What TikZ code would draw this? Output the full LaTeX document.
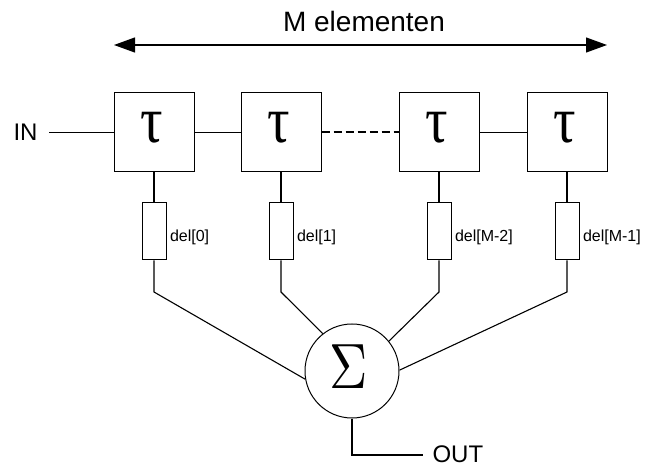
\documentclass[tikz,border=0pt]{standalone}
\usepackage{fontspec}
\setmainfont{Liberation Sans}
\newfontfamily\greekserif{Liberation Serif}
\usetikzlibrary{arrows.meta}
\begin{document}
\begin{tikzpicture}[x=1pt,y=-1pt,
  line width=1pt,
  tbox/.style={draw, rectangle, minimum width=80pt, minimum height=79pt, inner sep=0pt, line width=1pt},
  dbox/.style={draw, rectangle, minimum width=24pt, minimum height=57pt, inner sep=0pt, line width=1pt},
  dlabel/.style={anchor=west, inner sep=0pt, font=\fontsize{16}{18}\selectfont},
  sumc/.style={draw, circle, minimum size=94pt, inner sep=0pt, line width=1pt},
  sym/.style={inner sep=0pt},
  wire/.style={line width=1.1pt}
]
\useasboundingbox (0,0) rectangle (646,468);
% title and arrow
\node[anchor=base, inner sep=0pt, font=\fontsize{28}{30}\selectfont] (title) at (364,32) {M elementen};
\coordinate (aL) at (114,45);
\coordinate (aR) at (607,45);
\draw[wire, {Triangle[length=21pt,width=15pt]}-{Triangle[length=21pt,width=15pt]}] (aL) -- (aR);
% delay boxes
\node[tbox] (t1) at (154,132.5) {};
\node[tbox] (t2) at (281,132.5) {};
\node[tbox] (t3) at (439,132.5) {};
\node[tbox] (t4) at (567,132.5) {};
\node[sym] (s1) at ([xshift=-2pt,yshift=4.5pt]t1.center) {\scalebox{0.85}[1]{\greekserif\fontsize{66}{66}\selectfont τ}};
\node[sym] (s2) at ([xshift=-2pt,yshift=4.5pt]t2.center) {\scalebox{0.85}[1]{\greekserif\fontsize{66}{66}\selectfont τ}};
\node[sym] (s3) at ([xshift=-2pt,yshift=4.5pt]t3.center) {\scalebox{0.85}[1]{\greekserif\fontsize{66}{66}\selectfont τ}};
\node[sym] (s4) at ([xshift=-2pt,yshift=4.5pt]t4.center) {\scalebox{0.85}[1]{\greekserif\fontsize{66}{66}\selectfont τ}};
% IN
\node[anchor=east, inner xsep=11pt, inner ysep=0pt, font=\fontsize{24}{26}\selectfont] (in) at (49,132.5) {IN};
\draw[wire] (in.east) -- (t1.west);
\draw[wire] (t1.east) -- (t2.west);
\draw[line width=2pt, dash pattern=on 8pt off 4pt] (t2.east) -- (t3.west);
\draw[wire] (t3.east) -- (t4.west);
% weight boxes
\node[dbox] (d1) at (154,231.5) {};
\node[dbox] (d2) at (281,231.5) {};
\node[dbox] (d3) at (439,231.5) {};
\node[dbox] (d4) at (567,231.5) {};
\node[dlabel] (l1) at ([xshift=3pt,yshift=-6pt]d1.east) {del[0]};
\node[dlabel] (l2) at ([xshift=3pt,yshift=-6pt]d2.east) {del[1]};
\node[dlabel] (l3) at ([xshift=3pt,yshift=-6pt]d3.east) {del[M-2]};
\node[dlabel] (l4) at ([xshift=3pt,yshift=-6pt]d4.east) {del[M-1]};
\draw[wire] (t1.south) -- (d1.north);
\draw[wire] (t2.south) -- (d2.north);
\draw[wire] (t3.south) -- (d3.north);
\draw[wire] (t4.south) -- (d4.north);
% sum
\node[sumc] (sum) at (352,371) {};
\node[sym] (sig) at ([xshift=-3pt,yshift=4pt]sum.center) {\scalebox{5.3}[6.4]{$\Sigma$}};
\coordinate (j1) at (154,292);
\coordinate (j2) at (281,292);
\coordinate (j3) at (439,292);
\coordinate (j4) at (567,292);
\draw[wire] (d1.south) -- (j1) -- (sum.190);
\draw[wire] (d2.south) -- (j2) -- (sum.128);
\draw[wire] (d3.south) -- (j3) -- (sum.39);
\draw[wire] (d4.south) -- (j4) -- (sum.1);
% OUT
\node[anchor=west, inner xsep=9pt, inner ysep=0pt, font=\fontsize{24}{26}\selectfont] (out) at (423,454) {OUT};
\coordinate (ob) at (352,455);
\draw[wire] (sum.south) -- (ob) -- (ob -| out.west);
\end{tikzpicture}
\end{document}
